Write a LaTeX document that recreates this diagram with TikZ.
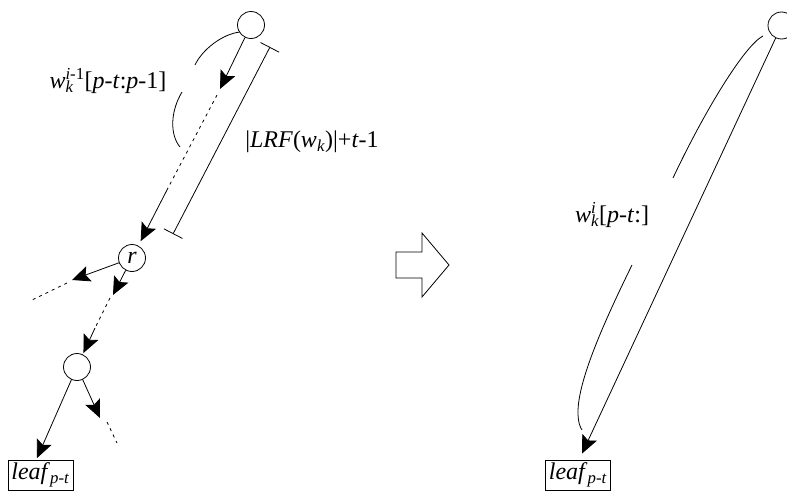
\documentclass[tikz,border=0pt]{standalone}
\usepackage{fontspec}
\setmainfont{Liberation Serif}
\usetikzlibrary{arrows.meta}
\begin{document}
\begin{tikzpicture}[x=1pt,y=-1pt,
  line width=0.8pt,
  every node/.style={font=\fontsize{24}{27}\selectfont},
  vertex/.style={circle,draw,minimum size=27pt,inner sep=0pt},
  leafbox/.style={draw,minimum width=65pt,minimum height=30pt,inner sep=0pt},
  tip/.style={-{Stealth[length=18pt,width=16pt,inset=3.5pt]}},
  dotseg/.style={dash pattern=on 3pt off 4pt},
  hollow/.style={line width=0.8pt,line join=miter},
  ]
\useasboundingbox (0,0) rectangle (787,490);

% ---- left tree ----
\node[vertex] (top) at (251,25) {};
\node[vertex] (r) at (132,258) {\textit{r}};
\node[vertex] (mid) at (77,367) {};
\node[leafbox] (leafL) at (40.5,475) {\textit{leaf}\textsubscript{\textit{p}-\textit{t}}};

% path from the top node down to r
\coordinate (a1) at (220,89);
\coordinate (d1) at (217,95);
\coordinate (d2) at (168,188);
\draw[tip] (top) -- (a1);
\draw[dotseg] (d1) -- (d2);
\draw[tip,shorten >=5pt] (d2) -- (r);

% left branch of r
\coordinate (b1) at (72,280);
\coordinate (b2) at (67,283);
\coordinate (b3) at (32,300);
\draw[tip] (r) -- (b1);
\draw[dotseg] (b2) -- (b3);

% lower branch of r
\coordinate (c1) at (113,295);
\coordinate (c2) at (110,298);
\coordinate (c3) at (95,328);
\draw[tip] (r) -- (c1);
\draw[dotseg] (c2) -- (c3);
\draw[tip,shorten >=1.5pt] (c3) -- (mid);

% children of the lower node
\draw[tip] (mid) -- ([xshift=-3.5pt,yshift=1.5pt]leafL.north);
\coordinate (e1) at (100,418);
\coordinate (e2) at (107,422);
\coordinate (e3) at (117,443);
\draw[tip] (mid) -- (e1);
\draw[dotseg] (e2) -- (e3);

% length bar
\coordinate (m1) at (270,47);
\coordinate (m2) at (173,234);
\draw[{Bar[width=21pt]}-{Bar[width=21pt]}] (m1) -- (m2);
\node (lenlabel) at (312,142) {|\textit{LRF}(\textit{w}\textsubscript{\textit{k}})|+\textit{t}-1};

% split brace along the top path
\draw (240,32) .. controls (222,34) and (202,50) .. (195,65);
\draw (182,92) .. controls (170,112) and (170,135) .. (180,147);
\node (sublabel) at (108,81) {\textit{w}\rlap{\textsubscript{\textit{k}}}\textsuperscript{\textit{i}-1}[\textit{p}-\textit{t}:\textit{p}-1]};

% ---- transformation arrow ----
\draw[hollow] (396,252) -- (422,252) -- (422,233) -- (449,265) -- (422,297) -- (422,278) -- (396,278) -- cycle;

% ---- right tree ----
\node[vertex] (topR) at (781.5,25.5) {};
\node[leafbox] (leafR) at (578,475) {\textit{leaf}\textsubscript{\textit{p}-\textit{t}}};
\draw[tip] (topR) -- ([xshift=4pt,yshift=6pt]leafR.north);
\draw (763,36) .. controls (745,45) and (705,110) .. (673,178);
\draw (632,265) .. controls (605,320) and (578,380) .. (578,412) .. controls (578,422) and (580,427) .. (582,430);
\node (suflabel) at (612,215) {\textit{w}\rlap{\textsuperscript{\textit{i}}}\textsubscript{\textit{k}}[\textit{p}-\textit{t}:]};
\end{tikzpicture}
\end{document}
